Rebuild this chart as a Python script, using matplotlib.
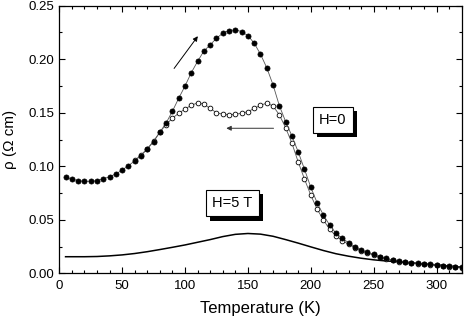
import numpy as np
import matplotlib
matplotlib.use('Agg')
import matplotlib.pyplot as plt
import matplotlib.patheffects as pe
from matplotlib.ticker import MultipleLocator

# heating, H=0 (filled circles)
t_heat = list(range(5, 325, 5))
rho_heat = [0.0897, 0.0879, 0.0866, 0.0860, 0.0860, 0.0866, 0.0882, 0.0903, 0.0928, 0.0965,
            0.1006, 0.1050, 0.1100, 0.1160, 0.1230, 0.1318, 0.1405, 0.1515, 0.1636, 0.1750,
            0.1875, 0.1980, 0.2077, 0.2134, 0.2196, 0.2243, 0.2268, 0.2274, 0.2258, 0.2220,
            0.2150, 0.2047, 0.1920, 0.1760, 0.1566, 0.1417, 0.1283, 0.1134, 0.0972, 0.0804,
            0.0660, 0.0545, 0.0451, 0.0374, 0.0327, 0.0286, 0.0249, 0.0218, 0.0196, 0.0178,
            0.0155, 0.0140, 0.0124, 0.0115, 0.0106, 0.0099, 0.0093, 0.0087, 0.0084, 0.0078,
            0.0071, 0.0065, 0.0062, 0.0056]

# cooling, H=0 (open circles)
t_cool = list(range(60, 325, 5))
rho_cool = [0.1055, 0.1105, 0.1165, 0.1235, 0.1320, 0.1390, 0.1450, 0.1495, 0.1535, 0.1570,
            0.1592, 0.1580, 0.1540, 0.1500, 0.1486, 0.1480, 0.1486, 0.1495, 0.1510, 0.1540,
            0.1570, 0.1590, 0.1563, 0.1480, 0.1360, 0.1215, 0.1040, 0.0880, 0.0730, 0.0600,
            0.0500, 0.0410, 0.0350, 0.0305, 0.0272, 0.0240, 0.0210, 0.0190, 0.0170, 0.0150,
            0.0135, 0.0120, 0.0110, 0.0102, 0.0095, 0.0090, 0.0084, 0.0080, 0.0075, 0.0069,
            0.0063, 0.0060, 0.0054]

# H=5 T (solid line)
t_5t = [5, 10, 20, 30, 40, 50, 60, 70, 80, 90, 100, 110, 120, 130, 140, 150, 160, 170,
        180, 190, 200, 210, 220, 230, 240, 250, 260, 270, 280, 290, 300, 310, 320]
rho_5t = [0.0155, 0.0155, 0.0155, 0.0157, 0.0163, 0.0172, 0.0185, 0.0202, 0.0222, 0.0243,
          0.0265, 0.0290, 0.0315, 0.0343, 0.0364, 0.0372, 0.0366, 0.0346, 0.0315, 0.0282,
          0.0247, 0.0213, 0.0183, 0.0160, 0.0141, 0.0126, 0.0115, 0.0108, 0.0098, 0.0088,
          0.0079, 0.0068, 0.0058]

plt.rcParams['font.family'] = ['Liberation Sans', 'DejaVu Sans']

fig = plt.figure(figsize=(4.69, 3.20), dpi=100)
ax = fig.add_axes([0.1264, 0.1459, 0.858, 0.8363])

ax.plot(t_5t, rho_5t, color='black', lw=1.1)
ax.plot(t_cool, rho_cool, color='#555555', lw=0.6, marker='o', ms=3.4,
        mfc='white', mec='black', mew=0.6)
ax.plot(t_heat, rho_heat, color='#555555', lw=0.6, marker='o', ms=3.7,
        mfc='black', mec='black', mew=0.5)

# arrows for heating / cooling
ax.annotate('', xy=(111.5, 0.2236), xytext=(90, 0.1893),
            arrowprops=dict(arrowstyle='-|>', lw=0.7, color='black', mutation_scale=7))
ax.annotate('', xy=(130.6, 0.1355), xytext=(172.6, 0.1355),
            arrowprops=dict(arrowstyle='-|>', lw=0.7, color='#333333', mutation_scale=7))

# labels with shadow boxes
for x, y, s in [(217.6, 0.1433, 'H=0'), (137.7, 0.0654, 'H=5 T')]:
    t = ax.text(x, y, s, ha='center', va='center', fontsize=10.5,
                bbox=dict(boxstyle='square,pad=0.42', fc='white', ec='black', lw=0.8))
    t.get_bbox_patch().set_path_effects(
        [pe.SimplePatchShadow(offset=(3, -3), shadow_rgbFace='black', alpha=1.0), pe.Normal()])

ax.set_xlim(0, 320)
ax.set_ylim(0, 0.25)
ax.xaxis.set_major_locator(MultipleLocator(50))
ax.xaxis.set_minor_locator(MultipleLocator(10))
ax.yaxis.set_major_locator(MultipleLocator(0.05))
ax.yaxis.set_minor_locator(MultipleLocator(0.025))
ax.yaxis.set_major_formatter(matplotlib.ticker.FormatStrFormatter('%.2f'))
ax.tick_params(which='both', direction='in', top=True, right=True, labelsize=9.5)
ax.tick_params(which='major', length=4, width=0.8)
ax.tick_params(which='minor', length=2.2, width=0.8)
ax.tick_params(axis='x', pad=5)
for sp in ax.spines.values():
    sp.set_linewidth(0.9)

ax.set_xlabel('Temperature (K)', fontsize=12, labelpad=6)
ax.set_ylabel('ρ (Ω cm)', fontsize=11, labelpad=8)

fig.savefig('out.png', dpi=100)
